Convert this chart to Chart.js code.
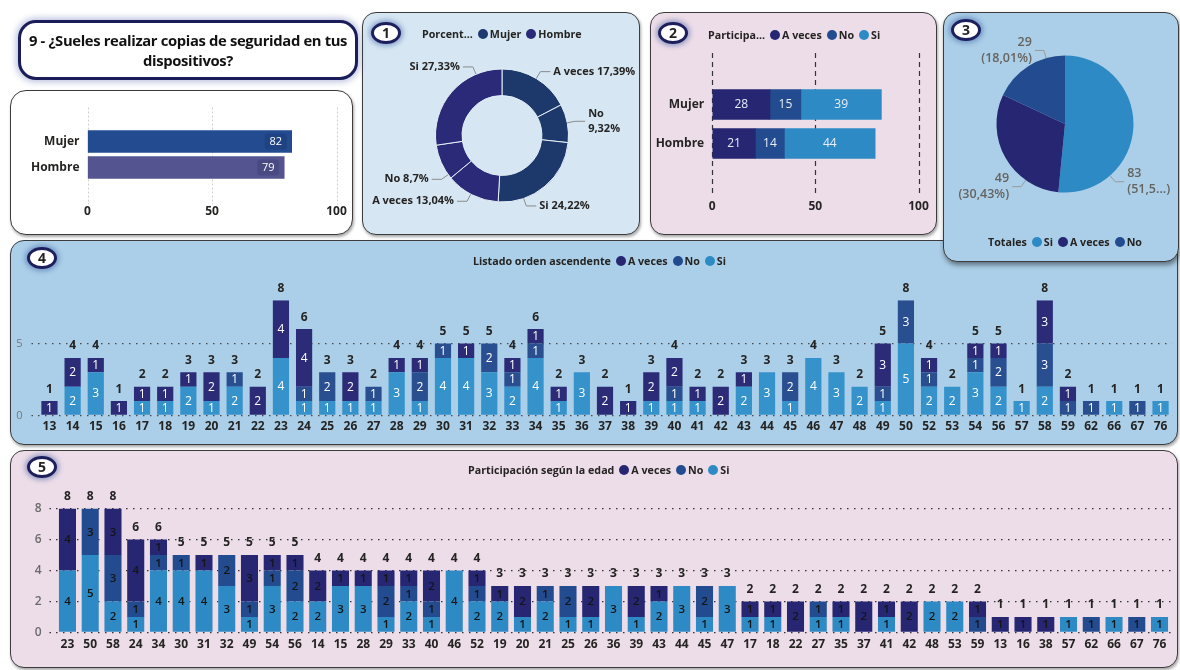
<!DOCTYPE html>
<html><head><meta charset="utf-8">
<script src="https://cdn.jsdelivr.net/npm/chart.js@4.4.1/dist/chart.umd.min.js"></script>
<style>
body{margin:0;width:1180px;height:670px;background:#fff;position:relative;overflow:hidden;font-family:"Open Sans","Noto Sans",sans-serif;color:#252423}
.panel{position:absolute;box-sizing:border-box;border:1.5px solid #3c3c3c;border-radius:14px;box-shadow:1px 2px 3px rgba(0,0,0,0.35);overflow:hidden}
.panel canvas{position:absolute;left:0;top:0}
.badge{position:absolute;width:24px;height:16px;border:3px solid #1d1f5c;border-radius:50%;background:#fff;font:bold 14px "Open Sans";text-align:center;line-height:16px;box-shadow:0 0 5px 2px rgba(40,70,150,0.45);z-index:5}
.legend{position:absolute;height:16px;display:flex;align-items:center;white-space:nowrap;font:bold 10.7px "Open Sans";color:#252423;z-index:5}
.legend .dot{display:inline-block;width:10px;height:10px;border-radius:50%;margin:0 2px 0 5px}
#title{position:absolute;left:18px;top:20px;width:340px;height:60px;box-sizing:border-box;border:3px solid #1b1d5a;border-radius:18px;background:#fff;box-shadow:0 0 6px 2px rgba(60,80,160,0.35);font:bold 14.8px "Open Sans";letter-spacing:-0.35px;white-space:nowrap;text-align:center;line-height:20px;padding-top:7px;color:#111;z-index:4}
</style></head>
<body>
<div id="title">9 - ¿Sueles realizar copias de seguridad en tus<br>dispositivos?</div>

<div class="panel" style="left:10px;top:90px;width:343px;height:145px;background:#fff;border-radius:16px"><canvas id="c0" width="340" height="142"></canvas></div>
<div class="panel" style="left:362px;top:12px;width:278px;height:223px;background:#d6e7f3"><canvas id="c1" width="275" height="220"></canvas></div>
<div class="panel" style="left:650px;top:12px;width:287px;height:223px;background:#eddde8"><canvas id="c2" width="284" height="220"></canvas></div>
<div class="panel" style="left:10px;top:240px;width:1168px;height:205px;background:#abcfe8"><canvas id="c4" width="1165" height="202"></canvas></div>
<div class="panel" style="left:943px;top:12px;width:236px;height:250px;background:#abcfe8;z-index:2;box-shadow:1px 3px 5px rgba(0,0,0,0.45)"><canvas id="c3" width="233" height="247"></canvas></div>
<div class="panel" style="left:10px;top:450px;width:1168px;height:218px;background:#eddde8"><canvas id="c5" width="1165" height="215"></canvas></div>

<div class="badge" style="left:371px;top:22px">1</div>
<div class="badge" style="left:658px;top:22px">2</div>
<div class="badge" style="left:951px;top:19px">3</div>
<div class="badge" style="left:27px;top:247px">4</div>
<div class="badge" style="left:27px;top:456px">5</div>

<div class="legend" style="left:422px;top:26px">Porcent...<span class="dot" style="background:#1e3a6e"></span>Mujer<span class="dot" style="background:#2b2a78"></span>Hombre</div>
<div class="legend" style="left:708px;top:27px">Participa...<span class="dot" style="background:#262673"></span>A veces<span class="dot" style="background:#234b8f"></span>No<span class="dot" style="background:#2e8ac5"></span>Si</div>
<div class="legend" style="left:988px;top:234px;z-index:6">Totales<span class="dot" style="background:#2e8ac5"></span>Si<span class="dot" style="background:#262673"></span>A veces<span class="dot" style="background:#234b8f"></span>No</div>
<div class="legend" style="left:473px;top:253px">Listado orden ascendente<span class="dot" style="background:#262673"></span>A veces<span class="dot" style="background:#234b8f"></span>No<span class="dot" style="background:#2e8ac5"></span>Si</div>
<div class="legend" style="left:468px;top:462px">Participación según la edad<span class="dot" style="background:#262673"></span>A veces<span class="dot" style="background:#234b8f"></span>No<span class="dot" style="background:#2e8ac5"></span>Si</div>

<script>
// ---------------- DATA ----------------
const genders = ['Mujer', 'Hombre'];
const genderTotals = [82, 79];

const donutLabels = ['A veces', 'No', 'Si', 'A veces', 'No', 'Si'];
const donutGender = ['Mujer', 'Mujer', 'Mujer', 'Hombre', 'Hombre', 'Hombre'];
const donutPercent = [17.39, 9.32, 24.22, 13.04, 8.7, 27.33];

const answers = ['A veces', 'No', 'Si'];
const genderAVeces = [28, 21];
const genderNo = [15, 14];
const genderSi = [39, 44];

const totalLabels = ['Si', 'A veces', 'No'];
const totalValues = [83, 49, 29];

const ages = ['13','14','15','16','17','18','19','20','21','22','23','24','25','26','27','28','29','30','31','32','33','34','35','36','37','38','39','40','41','42','43','44','45','46','47','48','49','50','52','53','54','56','57','58','59','62','66','67','76'];
const siByAge     = [0,2,3,0,1,1,2,1,2,0, 4,1,1,1,1,3,1,4,4,3, 2,4,1,3,0,0,1,1,1,0, 2,3,1,4,3,2,1,5,2,2, 3,2,1,2,0,0,1,0,1];
const noByAge     = [0,0,0,0,0,0,0,0,1,0, 0,1,2,0,1,0,2,1,0,2, 1,1,0,0,0,0,0,1,0,0, 0,0,2,0,0,0,1,3,1,0, 1,2,0,3,1,1,0,1,0];
const aVecesByAge = [1,2,1,1,1,1,1,2,0,2, 4,4,0,2,0,1,1,0,1,0, 1,1,1,0,2,1,2,2,1,2, 1,0,0,0,0,0,3,0,1,0, 1,1,0,3,1,0,0,0,0];

const agesByTotal = ['23','50','58','24','34','30','31','32','49','54','56','14','15','28','29','33','40','46','52','19','20','21','25','26','36','39','43','44','45','47','17','18','22','27','35','37','41','42','48','53','59','13','16','38','57','62','66','67','76'];

const ticks4 = [0, 5];
const ticks5 = [0, 2, 4, 6, 8];

// ---------------- STYLE ----------------
const C_AV = '#262673', C_NO = '#234b8f', C_SI = '#2e8ac5';
Chart.defaults.animation = false;
Chart.defaults.font.family = "'Open Sans','Noto Sans',sans-serif";
Chart.defaults.color = '#252423';
Chart.defaults.plugins.legend.display = false;
Chart.defaults.plugins.tooltip.enabled = false;

const fixW = w => s => { s.width = w; };
const fixH = h => s => { s.height = h; };
const hiddenTickGrid = gap => ({ display: true, drawOnChartArea: false, drawTicks: true, tickLength: gap, tickColor: 'rgba(0,0,0,0)' });

const vGrid = {
  id: 'vGrid',
  beforeDatasetsDraw(chart, args, o) {
    const xs = chart.scales.x, ctx = chart.ctx, ca = chart.chartArea;
    ctx.save();
    ctx.strokeStyle = o.color; ctx.lineWidth = o.width; ctx.setLineDash(o.dash);
    xs.ticks.forEach(t => {
      const px = Math.round(xs.getPixelForValue(t.value)) + 0.5;
      ctx.beginPath(); ctx.moveTo(px, ca.top - o.ext[0]); ctx.lineTo(px, ca.bottom + o.ext[1]); ctx.stroke();
    });
    ctx.restore();
  }
};

const endLabels = {
  id: 'endLabels',
  afterDatasetsDraw(chart, args, o) {
    const ctx = chart.ctx; ctx.save();
    ctx.font = '11px "Open Sans"'; ctx.textAlign = 'center'; ctx.textBaseline = 'middle';
    const ds = chart.data.datasets[0];
    chart.getDatasetMeta(0).data.forEach((bar, i) => {
      const cx = bar.x - 16;
      ctx.fillStyle = 'rgba(10,10,50,0.13)';
      ctx.beginPath(); ctx.roundRect(cx - 11, bar.y - 8, 22, 16, 3); ctx.fill();
      ctx.fillStyle = '#fff'; ctx.fillText(ds.data[i], cx, bar.y + 0.5);
    });
    ctx.restore();
  }
};

const segLabels = {
  id: 'segLabels',
  afterDatasetsDraw(chart, args, o) {
    const ctx = chart.ctx; ctx.save();
    ctx.textAlign = 'center'; ctx.textBaseline = 'middle';
    const horiz = chart.options.indexAxis === 'y';
    const n = chart.data.labels.length;
    const totals = new Array(n).fill(0);
    chart.data.datasets.forEach((ds, di) => {
      chart.getDatasetMeta(di).data.forEach((bar, i) => {
        const v = ds.data[i]; totals[i] += v; if (!v) return;
        ctx.font = o.font; ctx.fillStyle = o.color;
        if (horiz) ctx.fillText(v, (bar.x + bar.base) / 2, bar.y + 0.5);
        else ctx.fillText(v, bar.x, (bar.y + bar.base) / 2 + 0.5);
      });
    });
    if (o.totals) {
      const ys = chart.scales.y, meta = chart.getDatasetMeta(0);
      ctx.font = o.totalFont; ctx.fillStyle = '#252423';
      totals.forEach((t, i) => ctx.fillText(t, meta.data[i].x, ys.getPixelForValue(t) - o.gap));
    }
    ctx.restore();
  }
};

const arcLabels = {
  id: 'arcLabels',
  afterDatasetsDraw(chart, args, o) {
    const ctx = chart.ctx; ctx.save();
    ctx.font = o.font; ctx.lineWidth = 1;
    chart.getDatasetMeta(0).data.forEach((arc, i) => {
      const p = arc.getProps(['x', 'y', 'startAngle', 'endAngle', 'outerRadius'], true);
      const a = o.angles ? (o.angles[i] - 90) * Math.PI / 180 : (p.startAngle + p.endAngle) / 2;
      const right = Math.cos(a) >= 0;
      const r = p.outerRadius;
      const x0 = p.x + Math.cos(a) * r, y0 = p.y + Math.sin(a) * r;
      const x1 = p.x + Math.cos(a) * (r + o.len1), y1 = p.y + Math.sin(a) * (r + o.len1);
      const x2 = x1 + (right ? o.len2 : -o.len2);
      ctx.strokeStyle = o.lineColor;
      ctx.beginPath(); ctx.moveTo(x0, y0); ctx.lineTo(x1, y1); ctx.lineTo(x2, y1); ctx.stroke();
      const tx = x2 + (right ? 3 : -3);
      const avail = right ? chart.width - tx - 1 : tx - 1;
      let lines = o.text(i);
      if (o.mode === 'wrap' && lines.length === 1 && ctx.measureText(lines[0]).width > avail) {
        const s = lines[0], k = s.lastIndexOf(' ');
        lines = [s.slice(0, k), s.slice(k + 1)];
      }
      if (o.mode === 'truncate') {
        lines = lines.map(s => {
          if (ctx.measureText(s).width <= avail) return s;
          const paren = s.startsWith('(') && s.endsWith(')');
          let t = paren ? s.slice(0, -1) : s;
          const tail = paren ? '...)' : '...';
          while (t.length > 1 && ctx.measureText(t + tail).width > avail) t = t.slice(0, -1);
          return t + tail;
        });
      }
      ctx.fillStyle = o.color; ctx.textAlign = right ? 'left' : 'right'; ctx.textBaseline = 'middle';
      const lh = o.lineHeight, top = y1 - (lines.length - 1) * lh / 2;
      lines.forEach((s, k) => ctx.fillText(s, tx, top + k * lh));
    });
    ctx.restore();
  }
};

const fmt = v => String(v).replace('.', ',');

// ---------------- CHART 0 ----------------
new Chart(document.getElementById('c0'), {
  type: 'bar',
  data: { labels: genders, datasets: [{ data: genderTotals, backgroundColor: ['#234b8f', '#545490'], barThickness: 22 }] },
  options: {
    responsive: false, indexAxis: 'y',
    layout: { padding: { top: 37.5, right: 14.5, left: 0, bottom: 0 } },
    scales: {
      x: { min: 0, max: 100, ticks: { stepSize: 50, padding: 0, font: { weight: 'bold', size: 12 }, color: '#252423' },
           grid: hiddenTickGrid(24), border: { display: false }, afterFit: fixH(52.5) },
      y: { ticks: { font: { weight: 'bold', size: 12 }, color: '#252423', padding: 8 },
           grid: { display: false, drawTicks: false }, border: { display: false }, afterFit: fixW(76.5) }
    },
    plugins: { vGrid: { color: '#cfcfcf', dash: [2, 2], width: 1, ext: [21, 24] } }
  },
  plugins: [vGrid, endLabels]
});

// ---------------- CHART 1 ----------------
new Chart(document.getElementById('c1'), {
  type: 'doughnut',
  data: { labels: donutLabels, datasets: [{ data: donutPercent,
    backgroundColor: donutGender.map(g => g === 'Mujer' ? '#1d386b' : '#2b2a78'),
    borderColor: '#e4eef7', borderWidth: 1 }] },
  options: {
    responsive: false, cutout: '60%',
    layout: { padding: { left: 71.5, top: 55.5, right: 68.5, bottom: 30.5 } },
    plugins: { arcLabels: { font: 'bold 11px "Open Sans"', color: '#252423', lineColor: '#8a8a8a', len1: 8, len2: 10, lineHeight: 15,
      mode: 'wrap', angles: [31, 79, 161, 208, 234, 337],
      text: i => [donutLabels[i] + ' ' + fmt(donutPercent[i]) + '%'] } }
  },
  plugins: [arcLabels]
});

// ---------------- CHART 2 ----------------
new Chart(document.getElementById('c2'), {
  type: 'bar',
  data: { labels: genders, datasets: [
    { label: answers[0], data: genderAVeces, backgroundColor: C_AV, barThickness: 30 },
    { label: answers[1], data: genderNo, backgroundColor: C_NO, barThickness: 30 },
    { label: answers[2], data: genderSi, backgroundColor: C_SI, barThickness: 30 } ] },
  options: {
    responsive: false, indexAxis: 'y',
    layout: { padding: { top: 72, right: 16.5, left: 0, bottom: 0 } },
    scales: {
      x: { stacked: true, min: 0, max: 100, ticks: { stepSize: 50, padding: 0, font: { weight: 'bold', size: 12 }, color: '#252423' },
           grid: hiddenTickGrid(36), border: { display: false }, afterFit: fixH(70) },
      y: { stacked: true, ticks: { font: { weight: 'bold', size: 12 }, color: '#252423', padding: 8 },
           grid: { display: false, drawTicks: false }, border: { display: false }, afterFit: fixW(61.2) }
    },
    plugins: { vGrid: { color: '#333', dash: [5, 4], width: 1.2, ext: [32, 32] },
               segLabels: { font: '12px "Open Sans"', color: '#e8eef8', totals: false } }
  },
  plugins: [vGrid, segLabels]
});

// ---------------- CHART 3 ----------------
const totalSum = totalValues.reduce((a, b) => a + b, 0);
new Chart(document.getElementById('c3'), {
  type: 'pie',
  data: { labels: totalLabels, datasets: [{ data: totalValues, backgroundColor: [C_SI, C_AV, C_NO], borderWidth: 0 }] },
  options: {
    responsive: false,
    layout: { padding: { left: 52.5, top: 42.5, right: 43.5, bottom: 67.5 } },
    plugins: { arcLabels: { font: '600 12.5px "Open Sans"', color: '#66635f', lineColor: '#9a9a9a', len1: 8, len2: 9, lineHeight: 16,
      mode: 'truncate', angles: [139, 215, 344],
      text: i => [String(totalValues[i]), '(' + fmt((totalValues[i] / totalSum * 100).toFixed(2)) + '%)'] } }
  },
  plugins: [arcLabels]
});

// ---------------- CHARTS 4 & 5 ----------------
function stackedAge(id, labels, si, no, av, cfg) {
  return new Chart(document.getElementById(id), {
    type: 'bar',
    data: { labels, datasets: [
      { label: 'Si', data: si, backgroundColor: cfg.colors[2] },
      { label: 'No', data: no, backgroundColor: cfg.colors[1] },
      { label: 'A veces', data: av, backgroundColor: cfg.colors[0] } ] },
    options: {
      responsive: false,
      datasets: { bar: { categoryPercentage: 1, barPercentage: cfg.barPct } },
      layout: { padding: { top: cfg.top, right: cfg.right, left: 0, bottom: 0 } },
      scales: {
        x: { stacked: true, ticks: { font: { weight: 'bold', size: 12 }, color: '#252423', padding: 0, autoSkip: false, maxRotation: 0 },
             grid: hiddenTickGrid(cfg.xPad), border: { display: false }, afterFit: fixH(cfg.xH) },
        y: { stacked: true, min: 0, max: 8,
             afterBuildTicks: s => { s.ticks = cfg.ticks.map(v => ({ value: v })); },
             ticks: { font: cfg.yFont, color: cfg.yColor, padding: cfg.yPad },
             grid: { color: cfg.gridColor, lineWidth: 1.3, tickLength: cfg.tl, tickColor: cfg.gridColor, tickBorderDash: [1.5, 5.5] },
             border: { display: false, dash: [1.5, 5.5] }, afterFit: fixW(cfg.yW) }
      },
      plugins: { segLabels: { font: cfg.segFont, color: cfg.segColor, totals: true, totalFont: 'bold 12px "Open Sans"', gap: 12 } }
    },
    plugins: [segLabels]
  });
}

stackedAge('c4', ages, siByAge, noByAge, aVecesByAge, {
  colors: ['#2b2b78', '#2a4f91', '#3592cb'], barPct: 0.7, top: 59.3, right: 3.9, xPad: 4, xH: 27.5,
  ticks: ticks4, yFont: { size: 11 }, yColor: '#777', yPad: 9, tl: 6.4, yW: 26.9, gridColor: '#4a4a4a',
  segFont: '12px "Open Sans"', segColor: '#ffffff'
});

const idx = agesByTotal.map(a => ages.indexOf(a));
stackedAge('c5', agesByTotal, idx.map(i => siByAge[i]), idx.map(i => noByAge[i]), idx.map(i => aVecesByAge[i]), {
  colors: [C_AV, C_NO, C_SI], barPct: 0.75, top: 57.5, right: 5.1, xPad: 5, xH: 33.5,
  ticks: ticks5, yFont: { size: 12, weight: '600' }, yColor: '#6b6b6b', yPad: 8, tl: 6.6, yW: 45.1, gridColor: '#333',
  segFont: '600 11.5px "Open Sans"', segColor: '#151515'
});
</script>
</body></html>
